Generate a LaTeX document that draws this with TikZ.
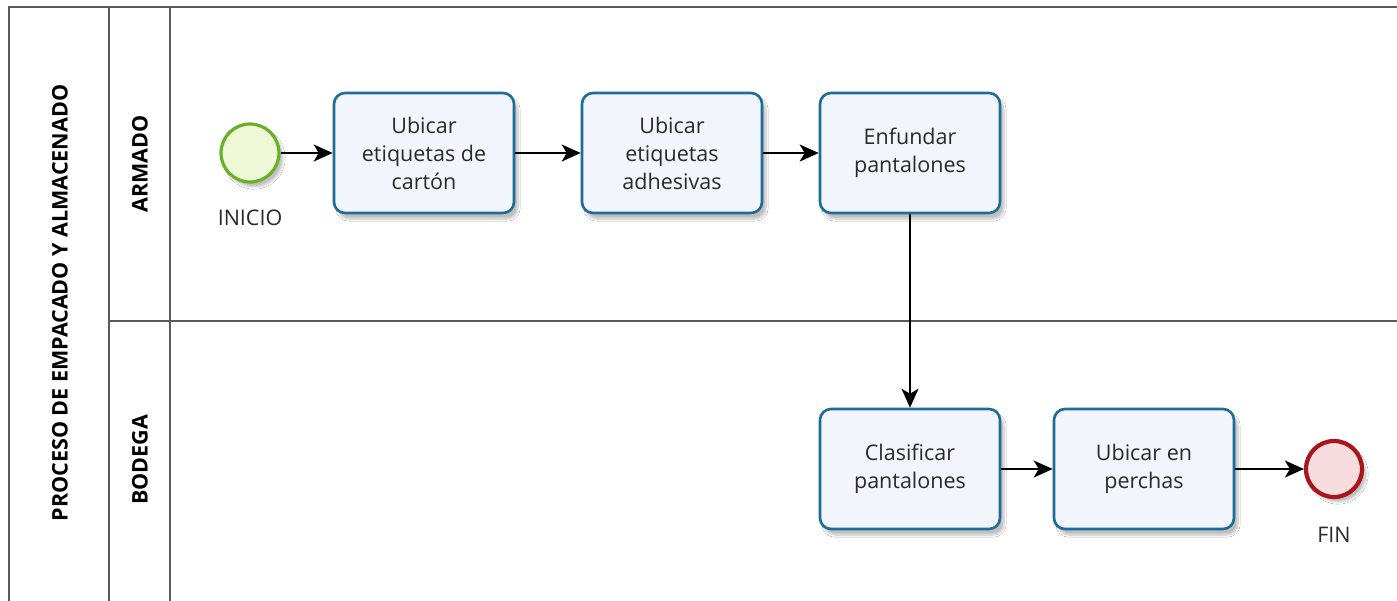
\documentclass[tikz,border=0pt]{standalone}
\usepackage{fontspec}
\setmainfont{Open Sans}
\usetikzlibrary{arrows.meta,shadows.blur}
\definecolor{taskborder}{HTML}{1E6C98}
\definecolor{taskfill}{HTML}{F2F5FC}
\definecolor{startborder}{HTML}{6AAF2A}
\definecolor{startfill}{HTML}{EEF8D6}
\definecolor{endborder}{HTML}{A8161C}
\definecolor{endfill}{HTML}{F6DCDE}
\definecolor{laneline}{HTML}{5A5A5A}
\definecolor{labeltext}{HTML}{2A2A2A}
\tikzset{
  task/.style={draw=taskborder, line width=2.6pt, fill=taskfill, rounded corners=11pt,
    minimum width=180pt, minimum height=120pt, align=center, text=labeltext,
    font=\fontsize{21.5}{28}\selectfont,
    blur shadow={shadow xshift=4pt, shadow yshift=-6pt, shadow blur steps=8, shadow opacity=25}},
  startev/.style={circle, draw=startborder, line width=3.2pt, fill=startfill, minimum size=58pt, inner sep=0pt,
    blur shadow={shadow xshift=4pt, shadow yshift=-5pt, shadow blur steps=6, shadow opacity=25}},
  endev/.style={circle, draw=endborder, line width=4.2pt, fill=endfill, minimum size=56pt, inner sep=0pt,
    blur shadow={shadow xshift=4pt, shadow yshift=-5pt, shadow blur steps=6, shadow opacity=25}},
  evlabel/.style={font=\fontsize{21.5}{24}\selectfont, text=labeltext},
  flow/.style={line width=1.8pt, -{Stealth[length=19pt, width=17pt, inset=5pt]}},
  lane/.style={draw=laneline, line width=1.8pt},
  hdr/.style={font=\bfseries\fontsize{21.5}{24}\selectfont, rotate=90, text=black}
}
\begin{document}
\begin{tikzpicture}[x=1pt,y=-1pt]
\useasboundingbox (0,0) rectangle (1397,600);
\fill[white] (0,0) rectangle (1397,600);
% pool and lanes
\draw[lane] (9,603) -- (9,7) -- (1400,7);
\draw[lane] (109,7) -- (109,603);
\draw[lane] (170,7) -- (170,603);
\draw[lane] (109,321) -- (1400,321);
\node[hdr] (pool) at (60,303) {PROCESO DE EMPACADO Y ALMACENADO};
\node[hdr] (armado) at (140,164) {ARMADO};
\node[hdr] (bodega) at (140,460) {BODEGA};
% events and tasks
\node[startev] (start) at (250,153) {};
\node[evlabel] (inicio) at (250,218) {INICIO};
\node[task] (t1) at (424,153) {Ubicar\\etiquetas de\\cartón};
\node[task] (t2) at (672,153) {Ubicar\\etiquetas\\adhesivas};
\node[task] (t3) at (910,153) {Enfundar\\pantalones};
\node[task] (t4) at (910,469) {Clasificar\\pantalones};
\node[task] (t5) at (1144,469) {Ubicar en\\perchas};
\node[endev] (end) at (1334,469) {};
\node[evlabel] (fin) at (1334,535) {FIN};
% flows
\draw[flow] (start) -- (t1);
\draw[flow] (t1) -- (t2);
\draw[flow] (t2) -- (t3);
\draw[flow] (t3) -- (t4);
\draw[flow] (t4) -- (t5);
\draw[flow] (t5) -- (end);
\end{tikzpicture}
\end{document}
